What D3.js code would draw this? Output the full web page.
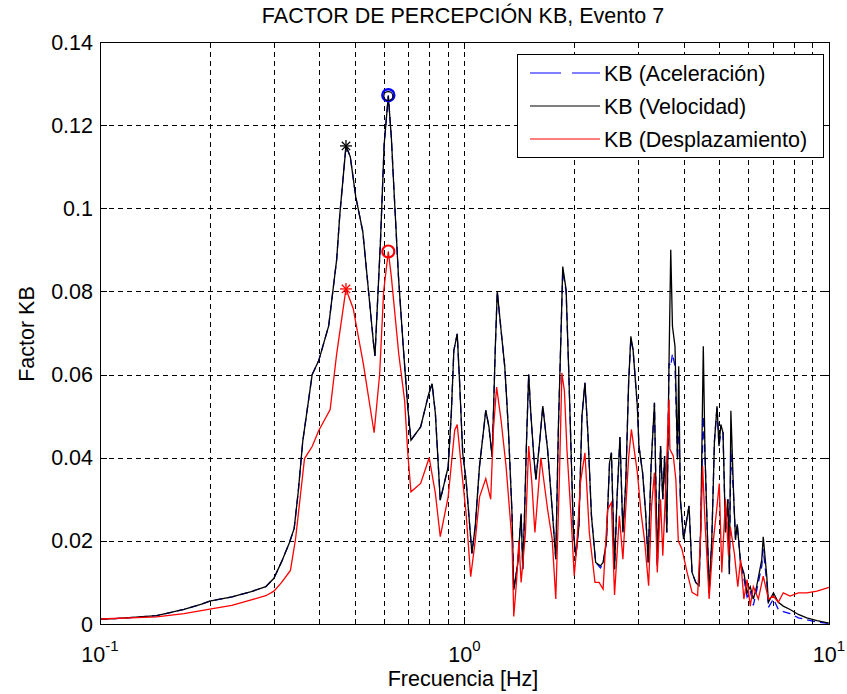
<!DOCTYPE html>
<html><head><meta charset="utf-8">
<script src="https://cdn.jsdelivr.net/npm/d3@7/dist/d3.min.js"></script>
<style>
body{margin:0;background:#fff}
svg{display:block}
text{font-family:"Liberation Sans",Arial,sans-serif;fill:#000}
</style>
</head><body>
<svg id="chart" width="847" height="694"></svg>
<script>
// ---------- data ----------
const title = "FACTOR DE PERCEPCIÓN KB, Evento 7";
const xLabel = "Frecuencia [Hz]";
const yLabel = "Factor KB";
const seriesNames = ["KB (Aceleración)", "KB (Velocidad)", "KB (Desplazamiento)"];
const yTicks = [0, 0.02, 0.04, 0.06, 0.08, 0.1, 0.12, 0.14];
const yTickLabels = ["0", "0.02", "0.04", "0.06", "0.08", "0.1", "0.12", "0.14"];
const xMajorTicks = [0.1, 1, 10];
const xMajorExp = ["-1", "0", "1"];
const xMinorTicks = [0.2,0.3,0.4,0.5,0.6,0.7,0.8,0.9,2,3,4,5,6,7,8,9];

// [frequency Hz, KB]
const velocidad = [
[0.100,0.0012],[0.110,0.0013],[0.143,0.0020],[0.170,0.0035],[0.190,0.0048],[0.200,0.0055],
[0.230,0.0065],[0.260,0.0078],[0.285,0.0090],[0.300,0.0110],[0.315,0.0150],[0.331,0.0196],
[0.341,0.0230],[0.350,0.0320],[0.360,0.0440],[0.382,0.0600],[0.398,0.0633],[0.424,0.0717],
[0.446,0.0877],[0.455,0.0986],[0.473,0.1150],[0.486,0.1124],[0.503,0.1028],[0.526,0.0944],
[0.543,0.0818],[0.564,0.0667],[0.568,0.0645],[0.588,0.0919],[0.602,0.1154],[0.618,0.1270],
[0.630,0.1170],[0.640,0.1050],[0.659,0.0835],[0.680,0.0660],[0.699,0.0520],[0.713,0.0442],
[0.758,0.0474],[0.798,0.0554],[0.815,0.0578],[0.832,0.0506],[0.858,0.0298],[0.902,0.0378],
[0.920,0.0506],[0.935,0.0658],[0.955,0.0698],[0.969,0.0586],[0.989,0.0410],[1.010,0.0346],
[1.034,0.0234],[1.048,0.0170],[1.070,0.0234],[1.099,0.0378],[1.144,0.0514],[1.167,0.0474],
[1.191,0.0402],[1.215,0.0666],[1.230,0.0800],[1.260,0.0706],[1.290,0.0618],[1.320,0.0466],
[1.350,0.0266],[1.365,0.0082],[1.400,0.0146],[1.430,0.0266],[1.445,0.0132],[1.460,0.0252],
[1.480,0.0444],[1.500,0.0600],[1.520,0.0508],[1.550,0.0400],[1.570,0.0348],[1.610,0.0444],
[1.640,0.0524],[1.690,0.0420],[1.740,0.0276],[1.780,0.0156],[1.810,0.0476],[1.840,0.0700],
[1.860,0.0860],[1.900,0.0804],[1.930,0.0620],[1.960,0.0420],[1.990,0.0220],[2.020,0.0164],
[2.060,0.0236],[2.100,0.0500],[2.140,0.0580],[2.180,0.0460],[2.230,0.0260],[2.290,0.0148],
[2.360,0.0140],[2.400,0.0148],[2.450,0.0196],[2.500,0.0388],[2.530,0.0412],[2.580,0.0132],
[2.620,0.0300],[2.670,0.0450],[2.720,0.0220],[2.770,0.0340],[2.820,0.0580],[2.860,0.0692],
[2.900,0.0660],[2.980,0.0524],[3.010,0.0428],[3.080,0.0364],[3.140,0.0268],[3.190,0.0148],
[3.250,0.0380],[3.320,0.0532],[3.360,0.0268],[3.380,0.0140],[3.450,0.0428],[3.500,0.0300],
[3.540,0.0404],[3.590,0.0220],[3.640,0.0628],[3.680,0.0900],[3.720,0.0716],[3.780,0.0668],
[3.840,0.0396],[3.870,0.0620],[3.910,0.0300],[3.990,0.0204],[4.130,0.0284],[4.210,0.0124],
[4.310,0.0100],[4.400,0.0092],[4.450,0.0244],[4.520,0.0668],[4.570,0.0404],[4.690,0.0076],
[4.770,0.0204],[4.850,0.0440],[4.930,0.0524],[4.990,0.0428],[5.050,0.0480],[5.120,0.0460],
[5.200,0.0220],[5.280,0.0300],[5.330,0.0120],[5.380,0.0513],[5.480,0.0300],[5.540,0.0203],
[5.600,0.0240],[5.720,0.0147],[5.840,0.0123],[5.960,0.0075],[6.080,0.0090],[6.200,0.0060],
[6.330,0.0090],[6.540,0.0155],[6.600,0.0210],[6.750,0.0115],[6.820,0.0052],[7.040,0.0075],
[7.260,0.0052],[7.490,0.0043],[7.820,0.0035],[8.240,0.0023],[8.690,0.0015],[9.270,0.0008],
[10.00,0.0002]
];

const aceleracion = [
[0.100,0.0012],[0.110,0.0013],[0.143,0.0020],[0.170,0.0035],[0.190,0.0048],[0.200,0.0055],
[0.230,0.0065],[0.260,0.0078],[0.285,0.0090],[0.300,0.0110],[0.315,0.0150],[0.331,0.0196],
[0.341,0.0230],[0.350,0.0320],[0.360,0.0440],[0.382,0.0600],[0.398,0.0633],[0.424,0.0717],
[0.446,0.0877],[0.455,0.0986],[0.473,0.1150],[0.486,0.1124],[0.503,0.1028],[0.526,0.0944],
[0.543,0.0818],[0.564,0.0667],[0.568,0.0645],[0.588,0.0919],[0.602,0.1154],[0.618,0.1272],
[0.630,0.1170],[0.640,0.1050],[0.659,0.0835],[0.680,0.0660],[0.699,0.0520],[0.713,0.0442],
[0.758,0.0474],[0.798,0.0554],[0.815,0.0578],[0.832,0.0506],[0.858,0.0298],[0.902,0.0378],
[0.920,0.0506],[0.935,0.0658],[0.955,0.0698],[0.969,0.0586],[0.989,0.0410],[1.010,0.0346],
[1.034,0.0234],[1.048,0.0170],[1.070,0.0234],[1.099,0.0378],[1.144,0.0514],[1.167,0.0474],
[1.191,0.0402],[1.215,0.0666],[1.230,0.0800],[1.260,0.0706],[1.290,0.0618],[1.320,0.0466],
[1.350,0.0266],[1.365,0.0082],[1.400,0.0146],[1.430,0.0266],[1.445,0.0132],[1.460,0.0252],
[1.480,0.0444],[1.500,0.0600],[1.520,0.0508],[1.550,0.0400],[1.570,0.0348],[1.610,0.0444],
[1.640,0.0524],[1.690,0.0420],[1.740,0.0276],[1.780,0.0156],[1.810,0.0476],[1.840,0.0700],
[1.860,0.0850],[1.900,0.0800],[1.930,0.0620],[1.960,0.0420],[1.990,0.0220],[2.020,0.0164],
[2.060,0.0236],[2.100,0.0500],[2.140,0.0580],[2.180,0.0460],[2.230,0.0260],[2.290,0.0148],
[2.360,0.0135],[2.400,0.0145],[2.450,0.0196],[2.500,0.0388],[2.530,0.0412],[2.580,0.0132],
[2.620,0.0300],[2.670,0.0450],[2.720,0.0220],[2.770,0.0340],[2.820,0.0580],[2.860,0.0685],
[2.900,0.0660],[2.980,0.0524],[3.010,0.0428],[3.080,0.0364],[3.140,0.0268],[3.190,0.0148],
[3.250,0.0380],[3.320,0.0532],[3.360,0.0268],[3.380,0.0140],[3.450,0.0428],[3.500,0.0300],
[3.540,0.0404],[3.590,0.0220],[3.640,0.0628],[3.680,0.0620],[3.720,0.0650],[3.780,0.0620],
[3.840,0.0396],[3.870,0.0520],[3.910,0.0300],[3.990,0.0204],[4.130,0.0284],[4.210,0.0124],
[4.310,0.0100],[4.400,0.0092],[4.450,0.0244],[4.520,0.0500],[4.570,0.0404],[4.690,0.0076],
[4.770,0.0204],[4.850,0.0440],[4.930,0.0524],[4.990,0.0428],[5.050,0.0460],[5.120,0.0460],
[5.200,0.0220],[5.280,0.0300],[5.330,0.0120],[5.380,0.0420],[5.480,0.0300],[5.540,0.0203],
[5.600,0.0240],[5.720,0.0147],[5.840,0.0110],[5.960,0.0065],[6.080,0.0080],[6.200,0.0045],
[6.330,0.0080],[6.540,0.0140],[6.600,0.0180],[6.750,0.0100],[6.820,0.0040],[7.040,0.0060],
[7.260,0.0035],[7.490,0.0030],[7.820,0.0025],[8.240,0.0015],[8.690,0.0010],[9.270,0.0005],
[10.00,0.0001]
];

const desplazamiento = [
[0.100,0.0012],[0.143,0.0017],[0.170,0.0025],[0.200,0.0036],[0.230,0.0045],[0.260,0.0058],
[0.285,0.0068],[0.300,0.0079],[0.315,0.0100],[0.333,0.0129],[0.344,0.0205],[0.364,0.0398],
[0.382,0.0427],[0.398,0.0465],[0.428,0.0516],[0.446,0.0650],[0.473,0.0806],[0.495,0.0759],
[0.528,0.0625],[0.565,0.0460],[0.585,0.0600],[0.600,0.0800],[0.618,0.0896],[0.630,0.0835],
[0.660,0.0650],[0.685,0.0538],[0.699,0.0410],[0.713,0.0318],[0.758,0.0338],[0.800,0.0400],
[0.832,0.0314],[0.858,0.0210],[0.902,0.0306],[0.940,0.0466],[0.955,0.0480],[0.980,0.0378],
[1.010,0.0266],[1.040,0.0114],[1.070,0.0200],[1.100,0.0306],[1.144,0.0350],[1.180,0.0300],
[1.200,0.0466],[1.225,0.0570],[1.260,0.0490],[1.300,0.0380],[1.350,0.0200],[1.365,0.0018],
[1.390,0.0106],[1.410,0.0200],[1.430,0.0100],[1.470,0.0220],[1.500,0.0428],[1.530,0.0340],
[1.560,0.0220],[1.620,0.0400],[1.690,0.0276],[1.740,0.0204],[1.780,0.0060],[1.820,0.0340],
[1.850,0.0604],[1.880,0.0560],[1.910,0.0420],[1.960,0.0260],[2.000,0.0116],[2.030,0.0180],
[2.080,0.0340],[2.140,0.0412],[2.200,0.0220],[2.280,0.0100],[2.340,0.0100],[2.400,0.0084],
[2.470,0.0276],[2.530,0.0292],[2.580,0.0070],[2.660,0.0260],[2.720,0.0156],[2.820,0.0400],
[2.870,0.0468],[2.980,0.0364],[3.050,0.0268],[3.120,0.0200],[3.200,0.0092],[3.260,0.0284],
[3.320,0.0364],[3.380,0.0124],[3.450,0.0300],[3.500,0.0164],[3.560,0.0316],[3.640,0.0540],
[3.660,0.0420],[3.740,0.0404],[3.800,0.0348],[3.860,0.0200],[3.950,0.0180],[4.080,0.0124],
[4.210,0.0076],[4.360,0.0068],[4.450,0.0220],[4.500,0.0380],[4.570,0.0244],[4.690,0.0060],
[4.800,0.0188],[4.930,0.0284],[5.000,0.0338],[5.080,0.0124],[5.200,0.0300],[5.300,0.0164],
[5.360,0.0234],[5.500,0.0170],[5.620,0.0090],[5.720,0.0155],[5.840,0.0060],[5.960,0.0107],
[6.080,0.0043],[6.200,0.0090],[6.400,0.0060],[6.600,0.0115],[6.820,0.0060],[7.040,0.0067],
[7.260,0.0052],[7.490,0.0075],[7.820,0.0067],[8.240,0.0075],[8.690,0.0075],[9.270,0.0079],
[10.00,0.0088]
];

// markers: [frequency, KB]
const starVel = [0.473, 0.1150];
const circAcc = [0.618, 0.1272];
const circVel = [0.618, 0.1270];
const starDesp = [0.473, 0.0806];
const circDesp = [0.618, 0.0896];

// ---------- drawing ----------
const svg = d3.select("#chart");
const L = 100, R = 829, T = 42, B = 624;
const x = d3.scaleLog().domain([0.1, 10]).range([L, R]);
const y = d3.scaleLinear().domain([0, 0.14]).range([B, T]);
const FS = 21.5;

svg.append("rect").attr("width", 847).attr("height", 694).attr("fill", "#fff");

// grid
const grid = svg.append("g").attr("stroke", "#000").attr("stroke-width", 1)
  .attr("stroke-dasharray", "5,4").attr("shape-rendering", "crispEdges");
xMinorTicks.concat([1]).forEach(v => {
  grid.append("line").attr("x1", Math.round(x(v)) + 0.5).attr("x2", Math.round(x(v)) + 0.5)
    .attr("y1", B).attr("y2", T);
});
yTicks.slice(1, -1).forEach(v => {
  grid.append("line").attr("y1", Math.round(y(v)) + 0.5).attr("y2", Math.round(y(v)) + 0.5)
    .attr("x1", L).attr("x2", R);
});

// lines
const line = d3.line().x(d => x(d[0])).y(d => y(d[1]));
const plot = svg.append("g");
plot.append("path").datum(aceleracion).attr("d", line).attr("fill", "none")
  .attr("stroke", "#0000ff").attr("stroke-width", 1.3).attr("stroke-dasharray", "8,5");
plot.append("path").datum(velocidad).attr("d", line).attr("fill", "none")
  .attr("stroke", "#000").attr("stroke-width", 1.3);
plot.append("path").datum(desplazamiento).attr("d", line).attr("fill", "none")
  .attr("stroke", "#ff0000").attr("stroke-width", 1.3);

// markers
function star(p, color) {
  const cx = x(p[0]), cy = y(p[1]), s = 6;
  const g = plot.append("g").attr("stroke", color).attr("stroke-width", 1.3);
  g.append("line").attr("x1", cx - s).attr("x2", cx + s).attr("y1", cy).attr("y2", cy);
  g.append("line").attr("x1", cx).attr("x2", cx).attr("y1", cy - s).attr("y2", cy + s);
  g.append("line").attr("x1", cx - s*0.7).attr("x2", cx + s*0.7).attr("y1", cy - s*0.7).attr("y2", cy + s*0.7);
  g.append("line").attr("x1", cx - s*0.7).attr("x2", cx + s*0.7).attr("y1", cy + s*0.7).attr("y2", cy - s*0.7);
}
function circ(p, color, r, w) {
  plot.append("circle").attr("cx", x(p[0])).attr("cy", y(p[1])).attr("r", r)
    .attr("fill", "none").attr("stroke", color).attr("stroke-width", w);
}
star(starVel, "#000");
circ(circAcc, "#0000ff", 6, 2.4);
circ(circVel, "#000", 4.5, 1.2);
star(starDesp, "#ff0000");
circ(circDesp, "#ff0000", 6, 2.2);

// axes box and ticks
const ax = svg.append("g").attr("stroke", "#000").attr("stroke-width", 1).attr("shape-rendering", "crispEdges");
ax.append("rect").attr("x", L).attr("y", T).attr("width", R - L).attr("height", B - T).attr("fill", "none");
xMajorTicks.forEach(v => {
  const px = Math.round(x(v)) + 0.5;
  ax.append("line").attr("x1", px).attr("x2", px).attr("y1", B).attr("y2", B - 7);
  ax.append("line").attr("x1", px).attr("x2", px).attr("y1", T).attr("y2", T + 7);
});
xMinorTicks.forEach(v => {
  const px = Math.round(x(v)) + 0.5;
  ax.append("line").attr("x1", px).attr("x2", px).attr("y1", B).attr("y2", B - 4);
  ax.append("line").attr("x1", px).attr("x2", px).attr("y1", T).attr("y2", T + 4);
});
yTicks.forEach(v => {
  const py = Math.round(y(v)) + 0.5;
  ax.append("line").attr("x1", L).attr("x2", L + 7).attr("y1", py).attr("y2", py);
  ax.append("line").attr("x1", R).attr("x2", R - 7).attr("y1", py).attr("y2", py);
});

// tick labels
yTicks.forEach((v, i) => {
  svg.append("text").attr("x", 93).attr("y", y(v) + 7.5).attr("text-anchor", "end")
    .attr("font-size", FS).text(yTickLabels[i]);
});
xMajorTicks.forEach((v, i) => {
  const t = svg.append("text").attr("x", x(v)).attr("y", 662).attr("text-anchor", "middle")
    .attr("font-size", FS);
  t.append("tspan").text("10");
  t.append("tspan").attr("dy", -11).attr("font-size", 15).text(xMajorExp[i]);
});

// titles
svg.append("text").attr("x", 463).attr("y", 23).attr("text-anchor", "middle")
  .attr("font-size", FS).text(title);
svg.append("text").attr("x", 463).attr("y", 686).attr("text-anchor", "middle")
  .attr("font-size", FS).text(xLabel);
svg.append("text").attr("transform", "translate(34,334) rotate(-90)").attr("text-anchor", "middle")
  .attr("font-size", FS).text(yLabel);

// legend
const lg = svg.append("g");
lg.append("rect").attr("x", 517.5).attr("y", 54.5).attr("width", 306).attr("height", 103)
  .attr("fill", "#fff").attr("stroke", "#000").attr("stroke-width", 1);
const legColors = ["#0000ff", "#000", "#ff0000"];
const legDash = ["31,11", null, null];
const legY = [73, 106, 139];
seriesNames.forEach((n, i) => {
  lg.append("line").attr("x1", 530).attr("x2", 600).attr("y1", legY[i]).attr("y2", legY[i])
    .attr("stroke", legColors[i]).attr("stroke-width", 1.2).attr("stroke-dasharray", legDash[i]);
  lg.append("text").attr("x", 604).attr("y", legY[i] + 7.5).attr("font-size", FS).text(n);
});
</script>
</body></html>
